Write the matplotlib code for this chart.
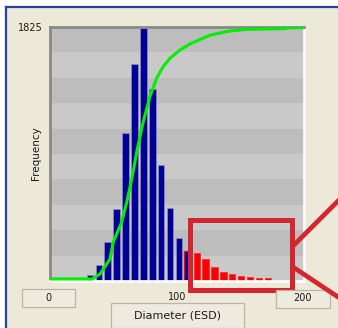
import matplotlib
matplotlib.use("Agg")
import matplotlib.pyplot as plt
from matplotlib.patches import Rectangle
from matplotlib.lines import Line2D

# ---- data ----
bin_centers = [31.5, 38.5, 45.5, 52.5, 59.5, 66.5, 73.5, 80.5, 87.5, 94.5, 101.5,
               108.5, 115.5, 122.5, 129.5, 136.5, 143.5, 150.5, 157.5, 164.5, 171.5]
counts = [43, 115, 277, 520, 1064, 1560, 1815, 1381, 833, 528, 306,
          213, 198, 157, 102, 67, 48, 34, 26, 19, 19]
cum_x = [0, 33, 39.4, 47.2, 49.8, 56.4, 60.4, 64.3, 68.7, 73.5, 78.7, 84.0, 89.2,
         94.5, 102.4, 110.2, 117.3, 126.0, 133.9, 141.7, 154.9, 183.5, 189.0, 200]
cum_y = [15, 15, 50, 157, 279, 422, 565, 730, 945, 1147, 1326, 1458, 1541,
         1601, 1660, 1703, 1732, 1766, 1782, 1796, 1808, 1813, 1820, 1820]
y_max = 1825
x_min, x_max = 0, 200
x_tick_labels = ["0", "100", "200"]
x_label = "Diameter (ESD)"
y_label = "Frequency"
mixed_bin = 108.5      # bin drawn blue with red outline
selected_from = 115.0  # bins from here on are red
highlight_x = (110.5, 190.8)
highlight_y = (-62, 440)

W, H = 338, 328
fig = plt.figure(figsize=(W / 100, H / 100), dpi=100)
fig.patch.set_facecolor("white")

# window background (beige panel with blue border)
fig.add_artist(Rectangle((7 / W, 0), 1, 1 - 8 / H, transform=fig.transFigure,
                         facecolor="#ece9d8", edgecolor="none", zorder=0))
fig.add_artist(Line2D([6 / W, 6 / W], [0, 1 - 7 / H], transform=fig.transFigure,
                      color="#2244a0", lw=1.6))
fig.add_artist(Line2D([6 / W, 1], [1 - 7 / H, 1 - 7 / H], transform=fig.transFigure,
                      color="#2244a0", lw=1.6))

ax = fig.add_axes([50 / W, (H - 281) / H, 254 / W, 254 / H])
ax.set_xlim(x_min, x_max)
ax.set_ylim(0, y_max)

# alternating gray bands
n_bands = 10
for i in range(n_bands):
    col = "#c9c9c9" if i % 2 == 0 else "#bdbdbd"
    ax.axhspan(i * y_max / n_bands, (i + 1) * y_max / n_bands, color=col, lw=0, zorder=0)

for c, v in zip(bin_centers, counts):
    if c >= selected_from:
        ax.bar(c, v, width=5.0, color="#ff0000", edgecolor="#ff2020", lw=0.5, zorder=2)
    elif c == mixed_bin:
        ax.bar(c, v, width=5.2, color="#000099", edgecolor="#ff0000", lw=1.0, zorder=2)
    else:
        ax.bar(c, v, width=5.2, color="#000099", edgecolor="#9a9ab8", lw=0.4, zorder=2)

ax.plot(cum_x, cum_y, color="#00ee00", lw=2.2, zorder=3, solid_capstyle="butt")

ax.set_xticks([])
ax.set_yticks([])
for s in ["left", "top"]:
    ax.spines[s].set_color("#8a8a84")
    ax.spines[s].set_linewidth(2.0)
for s in ["right", "bottom"]:
    ax.spines[s].set_color("#fafafa")
    ax.spines[s].set_linewidth(2.0)

# highlight rectangle
ax.add_patch(Rectangle((highlight_x[0], highlight_y[0]), highlight_x[1] - highlight_x[0],
                       highlight_y[1] - highlight_y[0], fill=False, edgecolor="#d42630",
                       lw=3.6, clip_on=False, zorder=5))
fig.add_artist(Line2D([293 / W, 1.0], [1 - 246 / H, 1 - 201 / H], transform=fig.transFigure,
                      color="#d42630", lw=3.4, zorder=6))
fig.add_artist(Line2D([293 / W, 1.0], [1 - 267 / H, 1 - 297 / H], transform=fig.transFigure,
                      color="#d42630", lw=3.4, zorder=6))

txt = dict(color="#1a1a1a", fontsize=7, family="DejaVu Sans")
fig.text(43 / W, 1 - 28 / H, str(y_max), ha="right", va="center", **txt)
fig.text(36 / W, 1 - 153 / H, y_label, rotation=90, ha="center", va="center",
         color="#1a1a1a", fontsize=7.5)

fig.text(48 / W, 1 - 298 / H, x_tick_labels[0], ha="center", va="center", **txt)
fig.add_artist(Rectangle((22 / W, 1 - 307 / H), 53 / W, 18 / H, transform=fig.transFigure,
                         facecolor="#eeebde", edgecolor="#b8b5a8", lw=0.9, zorder=1))
fig.text(177 / W, 1 - 297 / H, x_tick_labels[1], ha="center", va="center", **txt)
fig.add_artist(Rectangle((276 / W, 1 - 308 / H), 54 / W, 18 / H, transform=fig.transFigure,
                         facecolor="#eeebde", edgecolor="#b8b5a8", lw=0.9, zorder=1))
fig.text(302 / W, 1 - 298 / H, x_tick_labels[2], ha="center", va="center", zorder=7, **txt)
fig.add_artist(Rectangle((111 / W, 1 - 328 / H), 133 / W, 25 / H, transform=fig.transFigure,
                         facecolor="#eeebde", edgecolor="#b8b5a8", lw=0.9, zorder=1))
fig.text(177 / W, 1 - 316 / H, x_label, ha="center", va="center",
         color="#1a1a1a", fontsize=8)

fig.savefig("out.png", dpi=100, facecolor=fig.get_facecolor())
